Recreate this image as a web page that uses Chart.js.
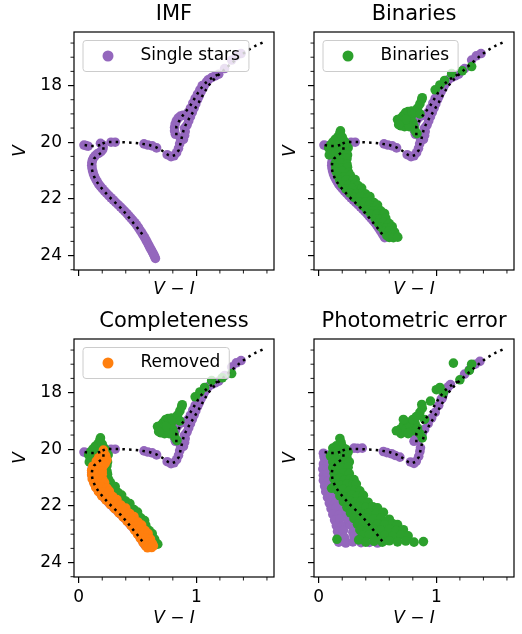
<!DOCTYPE html>
<html>
<head>
<meta charset="utf-8">
<script src="https://cdn.jsdelivr.net/npm/chart.js@4.4.1/dist/chart.umd.min.js"></script>
<style>
  html, body { margin: 0; padding: 0; background: #fff; }
  #fig { position: relative; width: 522px; height: 634px; overflow: hidden; }
  canvas { position: absolute; }
</style>
</head>
<body>
<div id="fig">
  <canvas id="imf" width="280" height="310" style="left:0px;top:0px"></canvas>
  <canvas id="bin" width="244" height="310" style="left:278px;top:0px"></canvas>
  <canvas id="comp" width="280" height="327" style="left:0px;top:307px"></canvas>
  <canvas id="err" width="244" height="327" style="left:278px;top:307px"></canvas>
</div>
<script>
Chart.defaults.font.family = "'DejaVu Sans', sans-serif"
Chart.defaults.color = '#000'

const PURPLE = '#9467bd'
const GREEN = '#2ca02c'
const ORANGE = '#ff7f0e'

// axis limits and tick positions (V - I on x, V on y, y reversed)
const xLimits = [-0.04, 1.66]
const vLimits = [16.11, 24.51]
const xMinorTicks = [0.2, 0.4, 0.6, 0.8, 1.2, 1.4, 1.6]
const vMinorTicks = [16.5, 17, 17.5, 18.5, 19, 19.5, 20.5, 21, 21.5, 22.5, 23, 23.5, 24.5]

// isochrone, drawn dotted in every panel
const isoMain = [[0.54,23.25],[0.5,23.03],[0.45,22.78],[0.4,22.52],[0.36,22.33],[0.31,22.13],[0.26,21.93],
  [0.21,21.7],[0.17,21.5],[0.14,21.3],[0.12,21.1],[0.11,20.9],[0.115,20.72],[0.13,20.58],[0.16,20.47],
  [0.19,20.38],[0.21,20.27],[0.21,20.15],[0.2,20.05],[0.23,20.0],[0.3,19.99],[0.38,20.0],[0.46,20.02],
  [0.53,20.05],[0.6,20.1],[0.66,20.18],[0.71,20.3],[0.76,20.45],[0.79,20.5],[0.82,20.45],[0.85,20.28],
  [0.865,20.05],[0.875,19.85],[0.89,19.6],[0.91,19.38],[0.94,19.15],[0.98,18.88],[1.02,18.6],[1.06,18.3],
  [1.1,18.02],[1.15,17.78],[1.2,17.58],[1.27,17.32],[1.35,17.03],[1.43,16.77],[1.51,16.58],[1.58,16.45]]
const isoHB = [[0.05,20.1],[0.1,20.13],[0.15,20.13],[0.19,20.09]]
const isoAGB = [[0.83,19.75],[0.83,19.45],[0.86,19.2],[0.9,18.97],[0.95,18.7],[0.99,18.42],[1.03,18.15],
  [1.08,17.9],[1.14,17.7],[1.2,17.58]]

// single stars (purple), IMF panel
const singleStars = [
  [0.652,24.1],[0.645,24.03],[0.637,23.96],[0.628,23.89],[0.618,23.81],[0.607,23.73],[0.596,23.64],
  [0.585,23.55],[0.573,23.46],[0.561,23.37],[0.548,23.28],[0.535,23.19],[0.521,23.1],[0.507,23.01],
  [0.492,22.92],[0.477,22.84],[0.461,22.76],[0.444,22.68],[0.427,22.6],[0.41,22.52],[0.392,22.44],
  [0.373,22.36],[0.354,22.28],[0.334,22.2],[0.314,22.12],[0.294,22.04],[0.274,21.96],[0.255,21.88],
  [0.236,21.8],[0.218,21.72],[0.201,21.64],[0.185,21.56],[0.17,21.48],[0.157,21.39],[0.145,21.3],
  [0.134,21.21],[0.125,21.11],[0.118,21.01],[0.113,20.91],[0.111,20.81],[0.112,20.72],[0.117,20.63],
  [0.126,20.55],[0.139,20.48],[0.155,20.42],[0.172,20.38],[0.19,20.33],[0.204,20.26],[0.208,20.17],
  [0.2,20.09],[0.185,20.04],
  [0.045,20.1],[0.062,20.12],[0.08,20.14],
  [0.275,20.0],[0.31,20.0],[0.555,20.06],[0.588,20.1],[0.625,20.13],[0.662,20.2],[0.752,20.44],
  [0.785,20.51],[0.81,20.48],[0.832,20.37],[0.848,20.22],[0.858,20.06],[0.866,19.92],
  [0.822,19.72],[0.815,19.6],[0.815,19.48],[0.82,19.36],[0.83,19.25],[0.845,19.15],[0.865,19.08],
  [0.885,19.05],[0.9,19.5],[0.905,19.62],[0.9,19.76],[0.89,19.9],
  [0.92,19.4],[0.935,19.25],[0.95,19.1],[0.965,18.95],[0.98,18.8],[0.995,18.65],[1.01,18.5],
  [1.025,18.36],[1.04,18.22],[1.055,18.1],[1.07,17.98],[1.085,17.88],[1.1,17.8],[1.13,17.72],
  [1.16,17.66],[1.19,17.6],[0.93,18.95],[0.95,18.8],[0.97,18.62],[0.99,18.45],[1.01,18.3],
  [1.03,18.15],[1.05,18.0],
  [1.24,17.4],[1.3,17.1],[1.34,16.95],[1.38,16.87]]

// faintest single stars left in the binary / completeness panels
const singleFaintLimit = 23.4

// binaries (green), binaries + completeness panels
const binaryStars = [
  [0.085,20.2],[0.1,20.1],[0.12,20.0],[0.14,19.9],[0.165,19.8],[0.18,19.68],[0.185,19.6],[0.2,19.82],
  [0.215,19.95],[0.235,20.05],[0.25,20.2],[0.23,20.3],[0.2,20.15],[0.16,20.1],[0.13,20.2],[0.11,20.35],
  [0.09,20.45],[0.15,20.35],[0.2,20.45],[0.245,20.45],[0.16,20.6],
  [0.15,20.6],[0.2,20.62],[0.24,20.58],
  [0.14,20.75],[0.19,20.73],[0.24,20.77],
  [0.145,20.9],[0.195,20.92],[0.245,20.88],
  [0.15,21.05],[0.2,21.03],[0.255,21.07],
  [0.165,21.2],[0.215,21.22],[0.27,21.18],
  [0.18,21.35],[0.235,21.33],[0.29,21.37],[0.31,21.32],
  [0.2,21.5],[0.255,21.52],[0.31,21.48],[0.335,21.53],
  [0.23,21.65],[0.285,21.63],[0.34,21.67],[0.365,21.62],
  [0.265,21.8],[0.32,21.82],[0.375,21.78],[0.4,21.83],
  [0.3,21.95],[0.355,21.93],[0.41,21.97],[0.435,21.92],
  [0.34,22.1],[0.395,22.12],[0.445,22.08],[0.47,22.13],
  [0.375,22.25],[0.43,22.23],[0.48,22.27],[0.5,22.22],
  [0.41,22.4],[0.46,22.42],[0.51,22.38],[0.53,22.43],
  [0.445,22.55],[0.495,22.53],[0.54,22.57],[0.56,22.52],
  [0.48,22.7],[0.525,22.72],[0.57,22.68],
  [0.505,22.85],[0.55,22.83],[0.6,22.87],
  [0.53,23.0],[0.575,23.02],[0.625,22.98],
  [0.555,23.15],[0.6,23.13],[0.645,23.17],
  [0.58,23.3],[0.62,23.28],[0.66,23.32],
  [0.6,23.36],[0.635,23.37],[0.672,23.35],
  [0.69,19.3],[0.7,19.15],[0.72,19.05],[0.74,18.95],[0.7,19.42],[0.73,19.45],[0.75,19.3],[0.77,19.15],
  [0.79,19.05],[0.8,19.3],[0.81,19.45],[0.82,19.6],[0.835,19.7],[0.76,18.92],[0.79,18.9],[0.82,18.95],
  [0.84,18.8],[0.86,18.65],[0.875,18.5],[0.88,18.43],[0.77,19.45],[0.74,19.2],[0.86,19.0],
  [0.67,19.2],[0.68,19.38],
  [0.99,18.15],[1.03,17.98],[1.07,17.82],[1.13,17.58],[1.22,17.48],[1.3,17.33]]

// stars removed by incompleteness (orange)
const removedStars = [
  [0.21,20.03],[0.215,20.12],[0.195,20.2],[0.23,20.24],[0.17,20.3],[0.205,20.34],[0.24,20.38],
  [0.15,20.42],[0.19,20.47],[0.225,20.5],
  [0.12,20.6],[0.165,20.62],[0.21,20.58],
  [0.11,20.75],[0.155,20.73],[0.2,20.77],
  [0.11,20.9],[0.155,20.92],[0.2,20.88],
  [0.115,21.05],[0.16,21.03],[0.205,21.07],
  [0.13,21.2],[0.175,21.22],[0.22,21.18],
  [0.145,21.35],[0.195,21.33],[0.24,21.37],
  [0.168,21.5],[0.215,21.52],[0.26,21.48],
  [0.196,21.65],[0.245,21.63],[0.29,21.67],
  [0.232,21.8],[0.28,21.82],[0.325,21.78],
  [0.268,21.95],[0.315,21.93],[0.36,21.97],
  [0.305,22.1],[0.355,22.12],[0.4,22.08],
  [0.342,22.25],[0.39,22.23],[0.435,22.27],
  [0.378,22.4],[0.425,22.42],[0.47,22.38],
  [0.412,22.55],[0.46,22.53],[0.505,22.57],
  [0.445,22.7],[0.49,22.72],[0.535,22.68],
  [0.474,22.85],[0.52,22.83],[0.565,22.87],
  [0.5,23.0],[0.545,23.02],[0.59,22.98],
  [0.524,23.15],[0.57,23.13],[0.61,23.17],
  [0.548,23.3],[0.59,23.28],[0.625,23.32],
  [0.57,23.42],[0.605,23.44],[0.635,23.41],
  [0.585,23.48],[0.62,23.47]]

// photometric error panel: scattered single stars (purple) and binaries (green)
const singleErr = [
  [0.05,20.32],[0.09,20.28],[0.14,20.35],
  [0.04,20.52],[0.08,20.48],[0.13,20.55],[0.17,20.5],
  [0.035,20.7],[0.07,20.74],[0.11,20.68],[0.15,20.72],
  [0.04,20.92],[0.075,20.88],[0.12,20.95],[0.16,20.9],
  [0.04,21.1],[0.08,21.14],[0.12,21.08],[0.17,21.12],
  [0.05,21.3],[0.09,21.27],[0.13,21.33],[0.18,21.3],
  [0.06,21.5],[0.1,21.54],[0.15,21.48],[0.2,21.52],
  [0.075,21.7],[0.12,21.66],[0.17,21.73],[0.22,21.7],
  [0.09,21.9],[0.14,21.93],[0.19,21.88],[0.25,21.92],
  [0.105,22.1],[0.15,22.06],[0.21,22.12],[0.28,22.1],
  [0.12,22.3],[0.17,22.33],[0.23,22.28],[0.3,22.3],
  [0.135,22.5],[0.18,22.47],[0.25,22.53],[0.33,22.5],
  [0.15,22.7],[0.2,22.73],[0.27,22.68],[0.35,22.72],
  [0.16,22.9],[0.21,22.87],[0.29,22.93],[0.38,22.9],
  [0.165,23.1],[0.22,23.12],[0.3,23.08],[0.4,23.1],[0.47,23.13],
  [0.17,23.28],[0.23,23.31],[0.29,23.27],[0.36,23.3],[0.43,23.29],[0.5,23.31],
  [0.04,20.14],[0.06,20.2],[0.045,20.26],
  [0.3,19.96],[0.33,19.97],[0.37,19.96],[0.55,20.08],[0.58,20.12],[0.62,20.16],[0.65,20.22],
  [0.69,20.28],[0.78,20.45],[0.81,20.5],[0.83,20.42],[0.85,20.25],[0.86,20.08],[0.865,19.95],
  [0.81,19.72],[0.82,19.6],[0.84,19.7],[0.86,19.55],[0.88,19.45],[0.9,19.3],[0.93,19.1],[0.96,18.9],
  [0.99,18.7],[1.02,18.45],[1.04,18.25],[1.06,18.05],[1.08,17.9],[1.1,17.8],[1.05,18.2],[1.12,17.72],
  [1.24,17.35],[1.28,17.2],[1.33,17.0],[1.37,16.9]]

const binaryErr = [
  [0.18,19.62],[0.19,19.76],[0.15,19.88],[0.12,19.96],[0.2,19.9],[0.23,20.0],[0.25,20.1],[0.22,20.2],
  [0.12,20.1],[0.16,20.04],[0.1,20.24],[0.14,20.3],[0.19,20.35],[0.24,20.3],[0.12,20.45],[0.17,20.5],
  [0.22,20.55],[0.26,20.45],
  [0.12,20.65],[0.16,20.62],[0.2,20.68],[0.25,20.64],
  [0.13,20.85],[0.17,20.88],[0.215,20.83],[0.26,20.86],
  [0.13,21.05],[0.18,21.02],[0.22,21.08],[0.27,21.04],[0.3,21.07],
  [0.14,21.25],[0.19,21.28],[0.24,21.22],[0.29,21.26],[0.32,21.23],
  [0.16,21.45],[0.21,21.42],[0.26,21.48],[0.31,21.44],[0.35,21.47],
  [0.18,21.65],[0.23,21.68],[0.28,21.62],[0.33,21.66],[0.38,21.63],
  [0.21,21.85],[0.26,21.82],[0.31,21.88],[0.36,21.84],[0.42,21.87],
  [0.24,22.05],[0.29,22.08],[0.34,22.02],[0.4,22.06],[0.46,22.03],[0.5,22.07],
  [0.27,22.25],[0.32,22.22],[0.37,22.28],[0.43,22.24],[0.49,22.27],[0.55,22.23],
  [0.3,22.45],[0.35,22.48],[0.41,22.42],[0.47,22.46],[0.53,22.43],[0.6,22.47],
  [0.33,22.65],[0.38,22.62],[0.44,22.68],[0.5,22.64],[0.56,22.67],[0.63,22.63],[0.67,22.66],
  [0.35,22.85],[0.41,22.88],[0.47,22.82],[0.53,22.86],[0.6,22.83],[0.66,22.87],[0.72,22.84],
  [0.37,23.05],[0.43,23.02],[0.5,23.08],[0.56,23.04],[0.63,23.07],[0.7,23.03],[0.76,23.06],
  [0.47,23.25],[0.54,23.28],[0.6,23.23],[0.67,23.27],[0.74,23.24],[0.81,23.28],[0.89,23.26],
  [0.11,21.38],[0.155,23.18],[0.34,23.2],[0.4,23.28],
  [0.69,19.3],[0.7,19.45],[0.72,19.15],[0.74,19.3],[0.76,19.05],[0.78,19.2],[0.8,19.35],[0.76,19.45],
  [0.82,19.1],[0.84,19.25],[0.86,19.45],[0.8,18.95],[0.83,18.85],[0.86,18.7],[0.88,18.55],[0.876,18.42],
  [0.9,18.95],[0.72,18.95],[0.66,19.35],[0.88,19.6],
  [1.0,17.9],[1.03,17.82],[1.06,18.0],[1.145,16.96],[1.2,17.55],[1.28,17.22],[1.3,17.0],[0.95,18.3]]

function pts(arr) {
    return arr.map(p => ({ x: p[0], y: p[1] }))
}

function dotted(arr) {
    return {
        data: pts(arr), showLine: true, borderColor: '#000', borderWidth: 2.5,
        borderDash: [2.5, 4.2], pointRadius: 0, fill: false, order: 0, clip: 0
    }
}

function stars(arr, color, order) {
    return {
        data: pts(arr), backgroundColor: color, pointBackgroundColor: color,
        pointBorderWidth: 0, borderWidth: 0, pointRadius: 4.8, order: order, clip: 0
    }
}

function isochrone() {
    return [dotted(isoMain), dotted(isoHB), dotted(isoAGB)]
}

// matplotlib-style legend box in the upper left corner of the axes
function drawLegend(chart, item) {
    var ctx = chart.ctx
    var a = chart.chartArea
    ctx.font = "17px 'DejaVu Sans'"
    var tw = ctx.measureText(item.label).width
    var x = a.left + 9, y = a.top + 8.5, w = 57.5 + tw + 9, h = 31
    ctx.beginPath()
    if (ctx.roundRect) ctx.roundRect(x, y, w, h, 3)
    else ctx.rect(x, y, w, h)
    ctx.fillStyle = 'rgba(255,255,255,0.8)'
    ctx.fill()
    ctx.strokeStyle = '#cccccc'
    ctx.lineWidth = 1
    ctx.stroke()
    ctx.beginPath()
    ctx.arc(x + 25, y + h / 2, 5.5, 0, Math.PI * 2)
    ctx.fillStyle = item.color
    ctx.fill()
    ctx.fillStyle = '#000'
    ctx.textBaseline = 'middle'
    ctx.textAlign = 'left'
    ctx.fillText(item.label, x + 57.5, y + h / 2)
}

// full box of spines, minor ticks, legend
const mplAxes = {
    id: 'mplAxes',
    afterDatasetsDraw(chart, args, opts) {
        var ctx = chart.ctx
        var a = chart.chartArea
        var xs = chart.scales.x, ys = chart.scales.y
        ctx.save()
        ctx.strokeStyle = '#000'
        ctx.lineWidth = 0.9
        ctx.beginPath()
        xMinorTicks.forEach(v => {
            var p = xs.getPixelForValue(v)
            ctx.moveTo(p, a.bottom)
            ctx.lineTo(p, a.bottom + 3.5)
        })
        vMinorTicks.forEach(v => {
            var p = ys.getPixelForValue(v)
            ctx.moveTo(a.left, p)
            ctx.lineTo(a.left - 3.5, p)
        })
        ctx.stroke()
        ctx.lineWidth = 1.2
        ctx.strokeRect(a.left, a.top, a.right - a.left, a.bottom - a.top)
        if (opts && opts.label) drawLegend(chart, opts)
        ctx.restore()
    }
}

function makePanel(id, title, datasets, legend, leftCol, bottomRow) {
    return new Chart(document.getElementById(id), {
        type: 'scatter',
        data: { datasets: datasets },
        options: {
            responsive: false,
            animation: false,
            events: [],
            devicePixelRatio: 1,
            layout: { padding: { left: 0, right: leftCol ? 6 : 8, top: 0, bottom: 0 } },
            plugins: {
                legend: { display: false },
                tooltip: { enabled: false },
                title: {
                    display: true, text: title, fullSize: false, color: '#000',
                    font: { size: 21, weight: 'normal' }, padding: { top: 1.5, bottom: 5.3 }
                },
                mplAxes: legend || {}
            },
            scales: {
                x: {
                    type: 'linear', min: xLimits[0], max: xLimits[1],
                    border: { display: false },
                    grid: { drawOnChartArea: false, drawTicks: true, tickLength: 6, color: '#000', lineWidth: 1.2 },
                    ticks: { display: bottomRow, stepSize: 1, includeBounds: false, padding: 4, color: '#000', font: { size: 17 } },
                    title: {
                        display: true, text: 'V − I', color: '#000',
                        font: { size: 17, style: 'italic' },
                        padding: { top: 0, bottom: bottomRow ? 5.5 : 9.8 }
                    },
                    afterFit: s => { s.height = bottomRow ? 57 : 40 }
                },
                y: {
                    type: 'linear', reverse: true, min: vLimits[0], max: vLimits[1],
                    border: { display: false },
                    grid: { drawOnChartArea: false, drawTicks: true, tickLength: 6, color: '#000', lineWidth: 1.2 },
                    ticks: { display: leftCol, stepSize: 2, includeBounds: false, padding: 6, color: '#000', font: { size: 17 } },
                    title: {
                        display: true, text: 'V', color: '#000',
                        font: { size: 17, style: 'italic' },
                        padding: { top: leftCol ? 10.8 : 2.8, bottom: 0 }
                    },
                    afterFit: s => { s.width = leftCol ? 74 : 36 }
                }
            }
        },
        plugins: [mplAxes]
    })
}

function main() {
    var brightSingles = singleStars.filter(p => p[1] < singleFaintLimit)

    makePanel('imf', 'IMF',
        isochrone().concat([stars(singleStars, PURPLE, 3)]),
        { label: 'Single stars', color: PURPLE }, true, false)

    makePanel('bin', 'Binaries',
        isochrone().concat([stars(binaryStars, GREEN, 2), stars(brightSingles, PURPLE, 3)]),
        { label: 'Binaries', color: GREEN }, false, false)

    makePanel('comp', 'Completeness',
        isochrone().concat([stars(removedStars, ORANGE, 1), stars(binaryStars, GREEN, 2), stars(brightSingles, PURPLE, 3)]),
        { label: 'Removed', color: ORANGE }, true, true)

    makePanel('err', 'Photometric error',
        isochrone().concat([stars(binaryErr, GREEN, 2), stars(singleErr, PURPLE, 3)]),
        null, false, true)
}

window.onload = main
</script>
</body>
</html>
